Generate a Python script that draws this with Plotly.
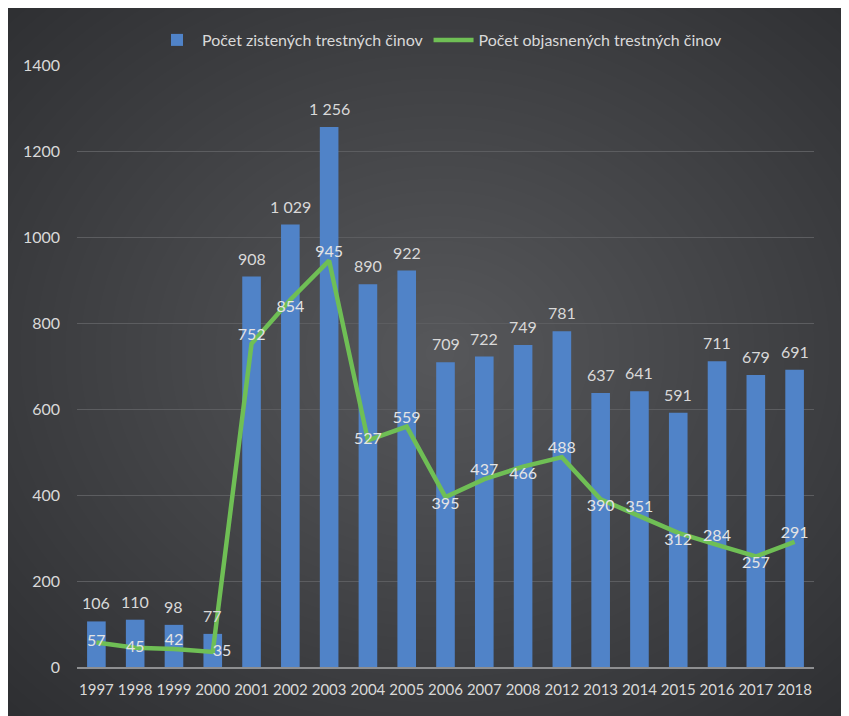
import plotly.graph_objects as go

years = ["1997", "1998", "1999", "2000", "2001", "2002", "2003", "2004", "2005", "2006",
         "2007", "2008", "2012", "2013", "2014", "2015", "2016", "2017", "2018"]
zistene = [106, 110, 98, 77, 908, 1029, 1256, 890, 922, 709,
           722, 749, 781, 637, 641, 591, 711, 679, 691]
objasnene = [57, 45, 42, 35, 752, 854, 945, 527, 559, 395,
             437, 466, 488, 390, 351, 312, 284, 257, 291]
label_pos = ["middle center", "middle center", "top center", "middle right", "top center",
             "bottom center", "top center", "middle center", "top center", "bottom center",
             "top center", "bottom center", "top center", "bottom center", "top center",
             "bottom center", "top center", "bottom center", "top center"]

W, H = 849, 716
L, R, T, B = 69, 43, 57, 57
TXT = "#d9d9d9"
BAR = "#5083c8"
LINE = "#6fbf55"
FONT = "Lato, Open Sans, sans-serif"


def px(x, y):
    # figure pixel -> paper coords
    return (x - L) / (W - L - R), (H - B - y) / (H - T - B)


fig = go.Figure()
fig.add_trace(go.Bar(
    x=years, y=zistene, name="Počet zistených trestných činov",
    marker=dict(color=BAR, line=dict(width=0)),
))
fig.add_trace(go.Scatter(
    x=years, y=objasnene, name="Počet objasnených trestných činov",
    mode="lines+text", line=dict(color=LINE, width=4.5),
    text=[str(v) for v in objasnene], textposition=label_pos,
    textfont=dict(color="#e4e4e4", size=16), cliponaxis=False,
))

# bar value labels sit a little higher than plotly's "outside" text
# (category axis: annotation x is the category index)
for i, v in enumerate(zistene):
    fig.add_annotation(x=i, y=v, text=f"{v:,}".replace(",", " "), showarrow=False,
                       yanchor="bottom", yshift=7, font=dict(color=TXT, size=16))

# soft radial glow on the dark background
shapes = []
cx, cy = 432, 345
n = 40
for k in range(n):
    f = 1 - k / n
    rx = 600 * f
    ry = 500 * f
    ax0, ay0 = px(cx - rx, cy - ry)
    ax1, ay1 = px(cx + rx, cy + ry)
    shapes.append(dict(type="circle", xref="paper", yref="paper", x0=ax0, y0=ay1, x1=ax1, y1=ay0,
                       fillcolor="rgba(255,255,255,0.0065)", line=dict(width=0), layer="below"))

lx, ly = px(432, 32)
fig.update_layout(
    width=W, height=H,
    margin=dict(l=L, r=R, t=T, b=B, autoexpand=False),
    paper_bgcolor="#2e2f32", plot_bgcolor="rgba(0,0,0,0)",
    font=dict(family=FONT, size=16, color=TXT),
    shapes=shapes,
    bargap=0.52,
    showlegend=True,
    legend=dict(orientation="h", x=lx, y=ly, xanchor="center", yanchor="middle",
                bgcolor="rgba(0,0,0,0)", font=dict(size=16, color=TXT), itemwidth=40),
    xaxis=dict(type="category", range=[-0.5, len(years) - 0.5], showgrid=False,
               showline=True, linecolor="#8e8f91", linewidth=1.5,
               ticks="", tickangle=0, tickfont=dict(color=TXT, size=15), ticklabelstandoff=8),
    yaxis=dict(range=[0, 1400], dtick=200, gridcolor="#5c5d60", gridwidth=1, zeroline=False,
               showline=False, ticks="", tickfont=dict(color=TXT, size=16), ticklabelstandoff=16),
)
fig.write_html("out.html")
